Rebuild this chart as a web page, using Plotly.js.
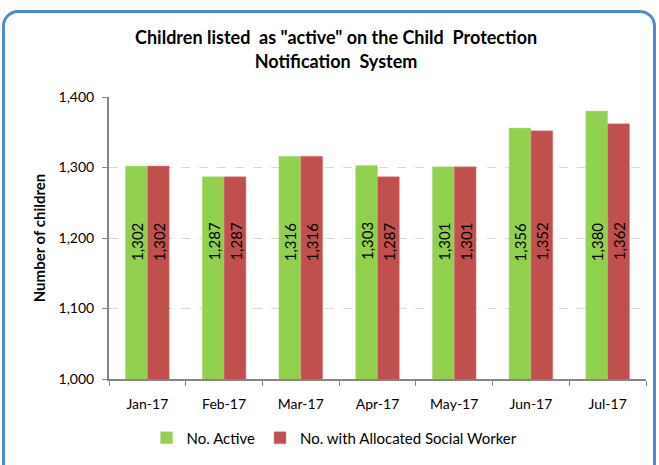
<!DOCTYPE html>
<html><head><meta charset="utf-8">
<script src="https://cdn.plot.ly/plotly-3.0.1.min.js"></script>
<style>
html,body{margin:0;padding:0;background:#fff;overflow:hidden;}
#frame{position:absolute;left:2px;top:10px;width:654px;height:480px;border:3px solid #5089d3;border-radius:16px;box-sizing:border-box;}
#chart{position:absolute;left:0;top:0;width:659px;height:465px;}
</style></head>
<body>
<div id="frame"></div>
<div id="chart"></div>
<script>
const months = ["Jan-17","Feb-17","Mar-17","Apr-17","May-17","Jun-17","Jul-17"];
const activeVals = [1302,1287,1316,1303,1301,1356,1380];
const allocatedVals = [1302,1287,1316,1287,1301,1352,1362];
const seriesNames = ["No. Active","No. with Allocated Social Worker"];
const yTicks = [1000,1100,1200,1300,1400];
const yTickText = ["1,000","1,100","1,200","1,300","1,400"];

const fontFam = "Lato, 'Open Sans', sans-serif";
const fmt = v => v.toLocaleString("en-US");
const labelY = 1195;   // vertical level where the in-bar labels sit
const shift = 11;      // half a bar width in px

const traces = [
  {type:"bar", name:seriesNames[0], x:months, y:activeVals,
   marker:{color:"#92d050", line:{color:"#b8e08a", width:0.5}}, hoverinfo:"x+y"},
  {type:"bar", name:seriesNames[1], x:months, y:allocatedVals,
   marker:{color:"#c0504d", line:{color:"#d98a88", width:0.5}}, hoverinfo:"x+y"}
];

const annotations = [];
months.forEach((m,i)=>{
  [[activeVals,-shift],[allocatedVals,shift]].forEach(([arr,xs])=>{
    annotations.push({x:m, y:labelY, xref:"x", yref:"y", text:fmt(arr[i]), showarrow:false,
      textangle:-90, xshift:xs, font:{family:fontFam,size:15,color:"#000"}});
  });
});

const sp = "\u00a0";
const layout = {
  width:659, height:465,
  paper_bgcolor:"rgba(0,0,0,0)", plot_bgcolor:"rgba(0,0,0,0)",
  margin:{l:109, r:13, t:97, b:85},
  font:{family:fontFam, size:13, color:"#000"},
  title:{text:"<b>Children listed "+sp+"as \"active\" on the Child "+sp+"Protection<br>Notification "+sp+"System</b>",
         font:{family:fontFam,size:18,color:"#000"}, x:0.51, xanchor:"center", y:0.905, yanchor:"middle"},
  barmode:"group", bargap:0.43, bargroupgap:0,
  annotations:annotations,
  xaxis:{showline:true, linecolor:"#868686", linewidth:2, ticks:"outside", tickson:"boundaries",
         ticklen:5, tickcolor:"#868686", showgrid:false, tickfont:{family:fontFam,size:14},
         ticklabelstandoff:11, automargin:false},
  yaxis:{range:[1000,1400], tickvals:yTicks, ticktext:yTickText, showline:true, linecolor:"#868686",
         linewidth:2, ticks:"outside", ticklen:5, tickcolor:"#868686",
         showgrid:true, gridcolor:"#d9d9d9", griddash:"dash", gridwidth:1, zeroline:false,
         tickfont:{family:fontFam,size:14}, ticklabelstandoff:5, automargin:false,
         title:{text:"<b>Number of children</b>", font:{family:fontFam,size:15}, standoff:9}},
  legend:{orientation:"h", x:0.42, xanchor:"center", y:-0.205, yanchor:"middle",
          font:{family:fontFam,size:15}, itemwidth:30, traceorder:"normal"},
  showlegend:true
};
Plotly.newPlot("chart", traces, layout, {displayModeBar:false, staticPlot:true});
</script>
</body></html>
